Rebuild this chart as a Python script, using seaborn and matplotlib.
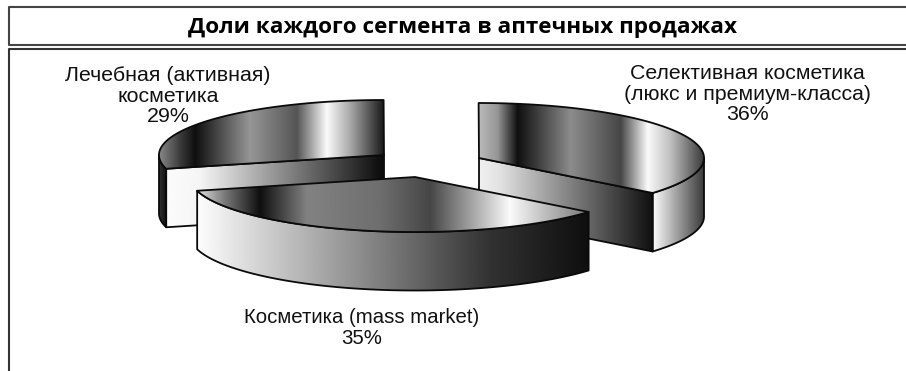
import numpy as np
import matplotlib
matplotlib.use("Agg")
import matplotlib.pyplot as plt
import seaborn as sns
from matplotlib.patches import Polygon

# Segment shares, percent
segments = ["Селективная косметика\n(люкс и премиум-класса)",
            "Косметика (mass market)",
            "Лечебная (активная)\nкосметика"]
shares = [36, 35, 29]
title = "Доли каждого сегмента в аптечных продажах"

sns.set_theme(style="white")
plt.rcParams["font.family"] = ["Liberation Sans", "DejaVu Sans"]

W, H = 906, 371
RX, RY, DEPTH = 225, 55, 58.5
START = 39.5     # angle of the first cut, degrees, measured clockwise on screen
centers = [(479, 158), (415, 177), (384, 155)]
label_xy = [(747, 94), (362, 328), (168, 96)]
label_size = [15.3, 14.7, 15.4]

# Metallic shading: (x position in pixels, grey level 0-255)
sheen = [
    [(479, 185), (497, 150), (517, 15), (570, 140), (620, 70), (647, 250), (670, 190), (705, 50)],
    [(195, 235), (225, 120), (260, 15), (307, 130), (380, 110), (430, 70), (510, 250), (545, 190), (588, 120)],
    [(158, 140), (180, 60), (195, 15), (250, 150), (297, 85), (327, 250), (350, 170), (384, 25)],
]
cut_ramp = [
    [(479, 240), (500, 225), (653, 15)],
    [(195, 255), (390, 120), (490, 50), (588, 15)],
    [(165, 252), (200, 245), (384, 10)],
]
wall_ramp = [
    [(653, 250), (705, 50)],
    [(195, 255), (390, 120), (490, 50), (588, 15)],
    [(157, 60), (165, 20)],
]


def arc(center, a0, a1, drop=0.0, n=120):
    t = np.radians(np.linspace(a0, a1, n))
    return np.column_stack([center[0] + RX * np.cos(t),
                            center[1] + drop + RY * np.sin(t)])


def shade(ax, pts, stops, zorder):
    """Fill a closed outline with a horizontal grey ramp and stroke its edge."""
    pts = np.asarray(pts)
    x0, x1 = pts[:, 0].min(), pts[:, 0].max()
    y0, y1 = pts[:, 1].min(), pts[:, 1].max()
    xs = np.array([s[0] for s in stops], float)
    gs = np.array([s[1] for s in stops], float) / 255
    grid = np.linspace(x0, x1, 512)
    ramp = np.interp(grid, xs, gs)[None, :]
    img = ax.imshow(ramp, cmap="gray", vmin=0, vmax=1, extent=(x0, x1, y1, y0),
                    aspect="auto", zorder=zorder, interpolation="bilinear")
    clip = Polygon(pts, closed=True, transform=ax.transData, fc="none", ec="none")
    ax.add_patch(clip)
    img.set_clip_path(clip)
    ax.add_patch(Polygon(pts, closed=True, fc="none", ec="#0a0a0a", lw=1.3,
                         joinstyle="round", zorder=zorder + 0.1))


fig = plt.figure(figsize=(W / 100, H / 100), dpi=100)
ax = fig.add_axes([0, 0, 1, 1])

# Sweep of each slice around the ellipse, from the shared cut at START
spans = {
    0: (START - shares[0] * 3.6, START),
    1: (START, START + shares[1] * 3.6),
    2: (START + shares[1] * 3.6, START + (shares[1] + shares[2]) * 3.6),
}

# Painted back to front so the middle slice overlaps its neighbours
for order, i in enumerate([2, 0, 1]):
    c = centers[i]
    a0, a1 = spans[i]
    top = np.vstack([[c], arc(c, a0, a1)])
    z = 2 + order * 2
    if i == 0:
        near = arc(c, 0, a1)
        wall = np.vstack([near, arc(c, a1, 0, DEPTH)])
        corner = arc(c, a1, a1, n=1)[0]
        cut = [c, corner, corner + [0, DEPTH], (c[0], c[1] + DEPTH)]
        shade(ax, cut, cut_ramp[i], z)
        shade(ax, wall, wall_ramp[i], z)
    elif i == 1:
        near = arc(c, a0, a1)
        wall = np.vstack([near, arc(c, a1, a0, DEPTH)])
        shade(ax, wall, wall_ramp[i], z)
    else:
        near = arc(c, a0, 180)
        wall = np.vstack([near, arc(c, 180, a0, DEPTH)])
        corner = arc(c, a0, a0, n=1)[0]
        cut = [c, corner, corner + [0, DEPTH], (c[0], c[1] + DEPTH)]
        shade(ax, wall, wall_ramp[i], z)
        shade(ax, cut, cut_ramp[i], z)
    shade(ax, top, sheen[i], z + 0.5)

for name, share, (x, y), size in zip(segments, shares, label_xy, label_size):
    ax.text(x, y, f"{name}\n{share}%", ha="center", va="center",
            fontsize=size, linespacing=1.08, color="#111111", zorder=20)

# Title box and chart frame
ax.plot([906, 8.5, 8.5, 906], [7, 7, 45, 45], color="#444444", lw=1.5, zorder=30)
ax.plot([906, 8.5, 8.5], [48.5, 48.5, 371], color="#333333", lw=1.5, zorder=30)
ax.text(463, 27, title, ha="center", va="center", fontsize=16.2, fontweight="bold",
        family=["Open Sans", "DejaVu Sans"], color="black", zorder=30)

ax.set_xlim(0, W)
ax.set_ylim(H, 0)
ax.axis("off")
fig.savefig("out.png", dpi=100, facecolor="white")
